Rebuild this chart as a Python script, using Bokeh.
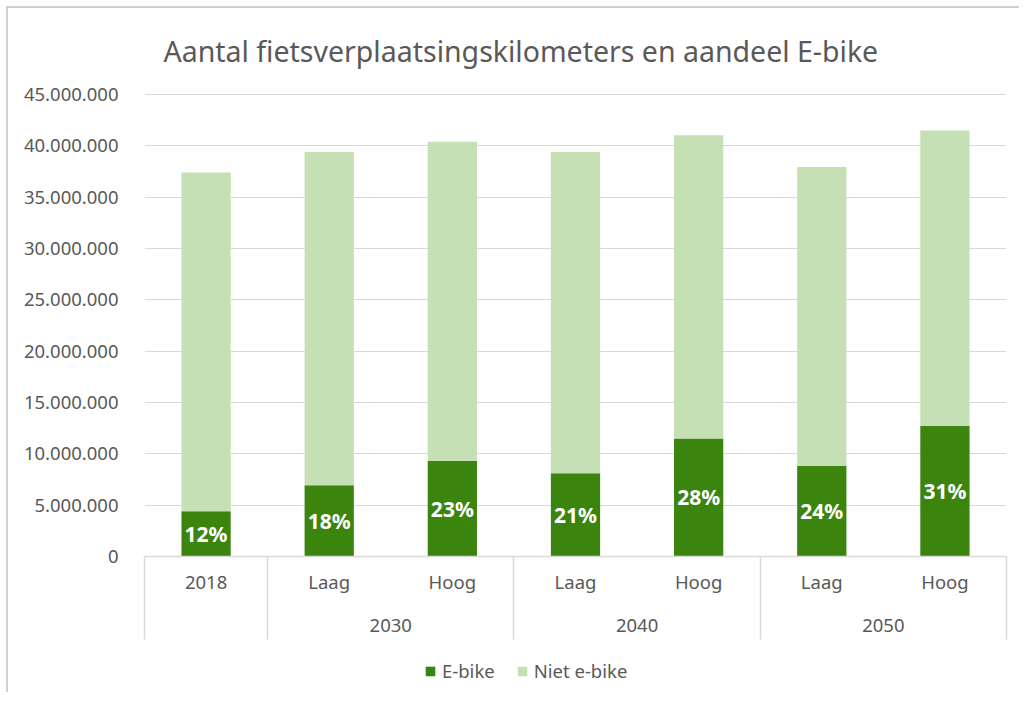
from bokeh.plotting import figure
from bokeh.layouts import column
from bokeh.models import (Range1d, LinearAxis, FixedTicker, ColumnDataSource, Legend, LegendItem)
from bokeh.core.properties import value
from bokeh.embed import file_html
from bokeh.resources import INLINE

# ---------------- data ----------------
title_text = "Aantal fietsverplaatsingskilometers en aandeel E-bike"
years = ["", "2030", "2030", "2040", "2040", "2050", "2050"]
scenarios = ["2018", "Laag", "Hoog", "Laag", "Hoog", "Laag", "Hoog"]
series_names = ["E-bike", "Niet e-bike"]
ebike = [4_400_000, 6_950_000, 9_300_000, 8_100_000, 11_500_000, 8_850_000, 12_750_000]
niet_ebike = [33_000_000, 32_450_000, 31_100_000, 31_300_000, 29_550_000, 29_100_000, 28_750_000]
share_labels = ["12%", "18%", "23%", "21%", "28%", "24%", "31%"]
y_ticks = [0, 5_000_000, 10_000_000, 15_000_000, 20_000_000, 25_000_000,
           30_000_000, 35_000_000, 40_000_000, 45_000_000]
y_tick_labels = ["0", "5.000.000", "10.000.000", "15.000.000", "20.000.000", "25.000.000",
                 "30.000.000", "35.000.000", "40.000.000", "45.000.000"]

# ---------------- style ----------------
DARK = "#3B850F"
LIGHT = "#C5E0B4"
TEXT = "#595959"
GRID = "#D9D9D9"
FONT = "Noto Sans"
FS = "18.5px"
SEP_LEN = 83
COLORS = [DARK, LIGHT]

n = len(scenarios)
centers = [i + 0.5 for i in range(n)]                      # category slots on the axis
boundaries = [0] + [i for i in range(1, n) if years[i] != years[i - 1]] + [n]
group_ticks, group_labels = [], []
for b0, b1 in zip(boundaries[:-1], boundaries[1:]):
    if years[b0]:
        group_ticks.append((b0 + b1) / 2)
        group_labels.append(years[b0])

src = ColumnDataSource(dict(
    x=centers,
    ebike=ebike,
    niet=niet_ebike,
    label=share_labels,
    label_y=[v / 2 for v in ebike],
))

p = figure(
    width=1011, height=640,
    x_range=Range1d(0, n),
    y_range=Range1d(0, 45_400_000),
    output_backend="svg", toolbar_location=None,
    min_border_left=136, min_border_right=13, min_border_top=82, min_border_bottom=92,
)
p.outline_line_color = None
p.background_fill_color = "white"
p.border_fill_color = "white"
p.xgrid.visible = False

# title
p.title.text = title_text
p.title.text_font = FONT
p.title.text_font_size = "28.5px"
p.title.text_font_style = "normal"
p.title.text_color = TEXT
p.title.align = "left"
p.title.offset = 19
p.title.standoff = 42

# bars
rs = p.vbar_stack(["ebike", "niet"], x="x", width=0.4, color=COLORS,
                  line_color=None, source=src)

p.text(x="x", y="label_y", text="label", source=src,
       text_align="center", text_baseline="middle", text_color="white",
       text_font=value(FONT), text_font_style="bold", text_font_size=value("21px"))

# y axis
yt = FixedTicker(ticks=y_ticks)
p.yaxis.ticker = yt
p.yaxis.major_label_overrides = dict(zip(y_ticks, y_tick_labels))
p.yaxis.axis_line_color = None
p.yaxis.major_tick_line_color = None
p.yaxis.minor_tick_line_color = None
p.yaxis.major_tick_out = 0
p.yaxis.major_tick_in = 0
p.yaxis.major_label_standoff = 26
p.yaxis.major_label_text_font = FONT
p.yaxis.major_label_text_font_size = FS
p.yaxis.major_label_text_color = TEXT
p.ygrid.ticker = yt
p.ygrid.grid_line_color = GRID
p.ygrid.grid_line_width = 1

# x axis: scenario labels + group separators (minor ticks)
xa = p.xaxis[0]
xa.ticker = FixedTicker(ticks=centers, minor_ticks=boundaries)
xa.major_label_overrides = dict(zip(centers, scenarios))
xa.axis_line_color = GRID
xa.axis_line_width = 1.5
xa.major_tick_line_color = None
xa.major_tick_out = 0
xa.major_tick_in = 0
xa.minor_tick_line_color = GRID
xa.minor_tick_line_width = 1.5
xa.minor_tick_out = SEP_LEN
xa.minor_tick_in = 0
xa.major_label_standoff = 12 - SEP_LEN
xa.major_label_text_font = FONT
xa.major_label_text_font_size = FS
xa.major_label_text_color = TEXT

# second x axis: year group labels
ga = LinearAxis(ticker=FixedTicker(ticks=group_ticks),
                major_label_overrides=dict(zip(group_ticks, group_labels)),
                axis_line_color=None, major_tick_line_color=None,
                minor_tick_line_color=None, major_tick_out=0, major_tick_in=0,
                major_label_standoff=22,
                major_label_text_font=FONT, major_label_text_font_size=FS,
                major_label_text_color=TEXT)
p.add_layout(ga, "below")

# ---------------- legend strip (separate figure below the chart) ----------------
lf = figure(width=1011, height=44, x_range=Range1d(0, 1), y_range=Range1d(0, 1),
            x_axis_location=None, y_axis_location=None,
            output_backend="svg", toolbar_location=None,
            min_border_left=0, min_border_right=0, min_border_top=0, min_border_bottom=0)
lf.outline_line_color = None
lf.xgrid.visible = False
lf.ygrid.visible = False
lf.background_fill_color = "white"
lf.border_fill_color = "white"
# swatch renderers: zero-size bars, used only for their colours in the legend
swatches = [lf.vbar(x=[0.5], top=[0], width=0, color=c, line_color=None) for c in COLORS]
legend = Legend(items=[LegendItem(label=name, renderers=[r])
                       for name, r in zip(series_names, swatches)],
                orientation="horizontal", location=(280, 9),
                padding=0, margin=0, spacing=21, label_standoff=6,
                glyph_width=12, glyph_height=12,
                label_text_font=FONT, label_text_font_size=FS, label_text_color=TEXT,
                border_line_color=None, background_fill_alpha=0)
lf.add_layout(legend, "center")

layout = column(p, lf, spacing=0)
layout.styles = {"margin-left": "6px", "margin-top": "6px",
                 "border-left": "2px solid #D0D0D0", "border-top": "2px solid #D0D0D0"}

open("out.html", "w").write(file_html(layout, INLINE))
